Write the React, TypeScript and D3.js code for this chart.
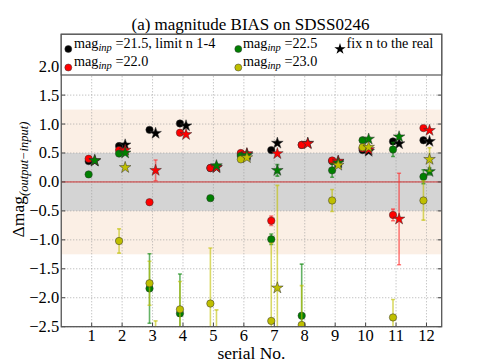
import React from "react";
import * as d3 from "d3";

const serials = [1, 2, 3, 4, 5, 6, 7, 8, 9, 10, 11, 12];
const NA = NaN;

// mag_inp = 21.5 (black)
const blackCircle = [0.36, 0.62, 0.9, 1.01, 0.24, 0.48, 0.55, 0.64, 0.36, 0.55, 0.7, 0.72];
const blackCircleErr = [0.03, 0.03, 0.03, 0.03, 0.03, 0.03, 0.03, 0.03, 0.03, 0.03, 0.03, 0.03];
const blackStar = [0.36, 0.64, 0.84, 0.97, 0.25, 0.48, 0.67, 0.67, 0.35, 0.53, 0.66, 0.7];
const blackStarErr = [0.03, 0.03, 0.03, 0.03, 0.03, 0.03, 0.03, 0.03, 0.03, 0.03, 0.03, 0.03];
// mag_inp = 22.0 (red)
const redCircle = [0.4, 0.55, -0.35, 0.85, 0.24, 0.5, -0.67, 0.64, 0.37, 0.58, -0.57, 0.93];
const redCircleErr = [0.03, 0.03, 0.03, 0.03, 0.03, 0.03, 0.08, 0.03, 0.03, 0.03, 0.1, 0.03];
const redStar = [0.37, 0.55, 0.2, 0.82, 0.25, 0.49, 0.49, 0.66, 0.36, 0.56, -0.64, 0.89];
const redStarErr = [0.03, 0.03, 0.18, 0.03, 0.03, 0.03, 0.03, 0.03, 0.03, 0.03, 0.79, 0.03];
// mag_inp = 22.5 (green)
const greenCircle = [0.13, 0.49, -1.84, -2.27, -0.28, 0.45, -0.99, -2.31, 0.2, 0.72, 0.56, 0.09];
const greenCircleErr = [0.03, 0.03, 0.6, 0.68, 0.03, 0.03, 0.09, 0.89, 0.12, 0.03, 0.12, 0.12];
const greenStar = [0.37, 0.5, NA, NA, 0.28, 0.46, 0.2, NA, 0.33, 0.74, 0.78, 0.18];
const greenStarErr = [0.03, 0.03, 0.03, 0.03, 0.03, 0.03, 0.1, 0.03, 0.03, 0.03, 0.03, 0.06];
// mag_inp = 23.0 (yellow)
const yellowCircle = [NA, -1.02, -1.75, -2.2, -2.1, 0.39, -2.4, -2.47, -0.32, 0.6, -2.34, -0.32];
const yellowCircleErr = [0.03, 0.21, 0.38, 0.48, 0.96, 0.03, 1.34, 0.68, 0.19, 0.03, 0.31, 0.34];
const yellowStar = [NA, 0.25, -2.8, NA, -2.8, 0.42, -1.83, NA, 0.29, 0.6, NA, 0.39];
const yellowStarErr = [0.03, 0.03, 0.4, 0.03, 0.59, 0.03, 1.77, 0.03, 0.03, 0.03, 0.03, 0.2];

const yTicks = [2.0, 1.5, 1.0, 0.5, 0.0, -0.5, -1.0, -1.5, -2.0, -2.5];
const xTicks = serials;

const W = 491;
const H = 363;
const L = 61.25;
const R = 441.7;
const T = 34.3;
const B = 326.7;

const x = d3.scaleLinear().domain([0, 12.5]).range([L, R]);
const y = d3.scaleLinear().domain([-2.5, 2.55]).range([B, T]);

const FONT = "Liberation Serif, DejaVu Serif, serif";

const series = [
  { color: "#000000", err: "rgba(0,0,0,0.5)", circle: blackCircle, cErr: blackCircleErr, star: blackStar, sErr: blackStarErr },
  { color: "#ff0000", err: "rgba(255,40,40,0.6)", circle: redCircle, cErr: redCircleErr, star: redStar, sErr: redStarErr },
  { color: "#008000", err: "rgba(0,128,0,0.6)", circle: greenCircle, cErr: greenCircleErr, star: greenStar, sErr: greenStarErr },
  { color: "#bfbf00", err: "rgba(191,191,0,0.6)", circle: yellowCircle, cErr: yellowCircleErr, star: yellowStar, sErr: yellowStarErr },
];

const OFF = 0.1;
const starPath = d3.symbol().type(d3.symbolStar).size(42)() as string;
const legendStar = d3.symbol().type(d3.symbolStar).size(40)() as string;

function fmt(v: number) {
  const s = Math.abs(v).toFixed(1);
  return v < 0 ? "\u2212" + s : s;
}

function ErrBar({ cx, v, e, color }: { cx: number; v: number; e: number; color: string }) {
  const y1 = y(v + e);
  const y2 = y(v - e);
  return (
    <g stroke={color} strokeWidth={1.6}>
      <line x1={cx} x2={cx} y1={y1} y2={y2} />
      <line x1={cx - 2} x2={cx + 2} y1={y1} y2={y1} />
      <line x1={cx - 2} x2={cx + 2} y1={y2} y2={y2} />
    </g>
  );
}

const txt = { fontFamily: FONT };
const LFS = 14.2;

function Mag({ xPos, yPos, val }: { xPos: number; yPos: number; val: string }) {
  return (
    <text x={xPos} y={yPos} style={txt} fontSize={LFS} fill="#000">
      mag
      <tspan dy={3} fontStyle="italic" fontSize={10.5}>inp</tspan>
      <tspan dy={-3}>{" =" + val}</tspan>
    </text>
  );
}

export default function App() {
  return (
    <svg width={W} height={H} style={{ position: "absolute", left: 0, top: 0 }} xmlns="http://www.w3.org/2000/svg">
      <defs>
        <clipPath id="plot">
          <rect x={L} y={T} width={R - L} height={B - T} />
        </clipPath>
      </defs>
      <rect x={0} y={0} width={W} height={H} fill="#fff" />
      <rect x={L} y={y(1.25)} width={R - L} height={y(-1.25) - y(1.25)} fill="#fbefe5" />
      <rect x={L} y={y(0.5)} width={R - L} height={y(-0.5) - y(0.5)} fill="#d4d4d4" />
      <g stroke="#9a9a9a" strokeWidth={0.8} strokeDasharray="1,2">
        {yTicks.map((t) => (
          <line key={"gy" + t} x1={L} x2={R} y1={y(t)} y2={y(t)} />
        ))}
        {xTicks.map((t) => (
          <line key={"gx" + t} x1={x(t)} x2={x(t)} y1={T} y2={B} />
        ))}
      </g>
      <line x1={L} x2={R} y1={y(0)} y2={y(0)} stroke="#cc3333" strokeWidth={1} />
      <g clipPath="url(#plot)">
        {series.map((s, si) => (
          <g key={"s" + si}>
            {serials.map((n, i) =>
              isNaN(s.circle[i]) ? null : (
                <g key={"c" + i}>
                  <ErrBar cx={x(n - OFF)} v={s.circle[i]} e={s.cErr[i]} color={s.err} />
                  <circle cx={x(n - OFF)} cy={y(s.circle[i])} r={3.7} fill={s.color} stroke="#333" strokeWidth={0.5} />
                </g>
              )
            )}
            {serials.map((n, i) =>
              isNaN(s.star[i]) ? null : (
                <g key={"st" + i}>
                  <ErrBar cx={x(n + OFF)} v={s.star[i]} e={s.sErr[i]} color={s.err} />
                  <path d={starPath} transform={`translate(${x(n + OFF)},${y(s.star[i])})`} fill={s.color} stroke="#333" strokeWidth={0.5} />
                </g>
              )
            )}
          </g>
        ))}
      </g>
      <g stroke="#444" strokeWidth={1}>
        {yTicks.map((t) => (
          <g key={"ty" + t}>
            <line x1={L} x2={L + 4} y1={y(t)} y2={y(t)} />
            <line x1={R - 4} x2={R} y1={y(t)} y2={y(t)} />
          </g>
        ))}
        {xTicks.map((t) => (
          <g key={"tx" + t}>
            <line x1={x(t)} x2={x(t)} y1={B} y2={B - 4} />
            <line x1={x(t)} x2={x(t)} y1={T} y2={T + 4} />
          </g>
        ))}
      </g>
      <rect x={L} y={T} width={R - L} height={B - T} fill="none" stroke="#555" strokeWidth={1.3} />
      {yTicks.map((t) => (
        <text key={"ly" + t} x={L - 2} y={y(t) + 5.5} textAnchor="end" style={txt} fontSize={16.5} fill="#000">
          {fmt(t)}
        </text>
      ))}
      {xTicks.map((t) => (
        <text key={"lx" + t} x={x(t)} y={B + 14} textAnchor="middle" style={txt} fontSize={16.5} fill="#000">
          {t}
        </text>
      ))}
      <text x={(L + R) / 2} y={359} textAnchor="middle" style={txt} fontSize={17.5} fill="#000">
        serial No.
      </text>
      <text transform={`translate(24,${(T + B) / 2 - 1}) rotate(-90)`} textAnchor="middle" style={txt} fontSize={17.5} fill="#000">
        Δmag
        <tspan dy={4} fontStyle="italic" fontSize={12.5}>(output−input)</tspan>
      </text>
      <text x={(L + R) / 2 - 1} y={30} textAnchor="middle" style={txt} fontSize={17} fill="#000">
        (a) magnitude BIAS on SDSS0246
      </text>
      <rect x={L} y={T} width={R - L} height={75 - T} fill="#fff" stroke="#555" strokeWidth={1.2} />
      <circle cx={68.3} cy={49} r={3.5} fill="#000" stroke="#333" strokeWidth={0.5} />
      <Mag xPos={74} yPos={48} val="21.5, limit n 1-4" />
      <circle cx={68.3} cy={67.5} r={3.5} fill="#ff0000" stroke="#333" strokeWidth={0.5} />
      <Mag xPos={74} yPos={66} val="22.0" />
      <circle cx={238.3} cy={49} r={3.5} fill="#008000" stroke="#333" strokeWidth={0.5} />
      <Mag xPos={243} yPos={48} val="22.5" />
      <circle cx={238.3} cy={67.5} r={3.5} fill="#bfbf00" stroke="#333" strokeWidth={0.5} />
      <Mag xPos={243} yPos={66} val="23.0" />
      <path d={legendStar} transform="translate(340,49)" fill="#000" />
      <text x={346.5} y={48} style={txt} fontSize={LFS} fill="#000">
        fix n to the real
      </text>
    </svg>
  );
}
